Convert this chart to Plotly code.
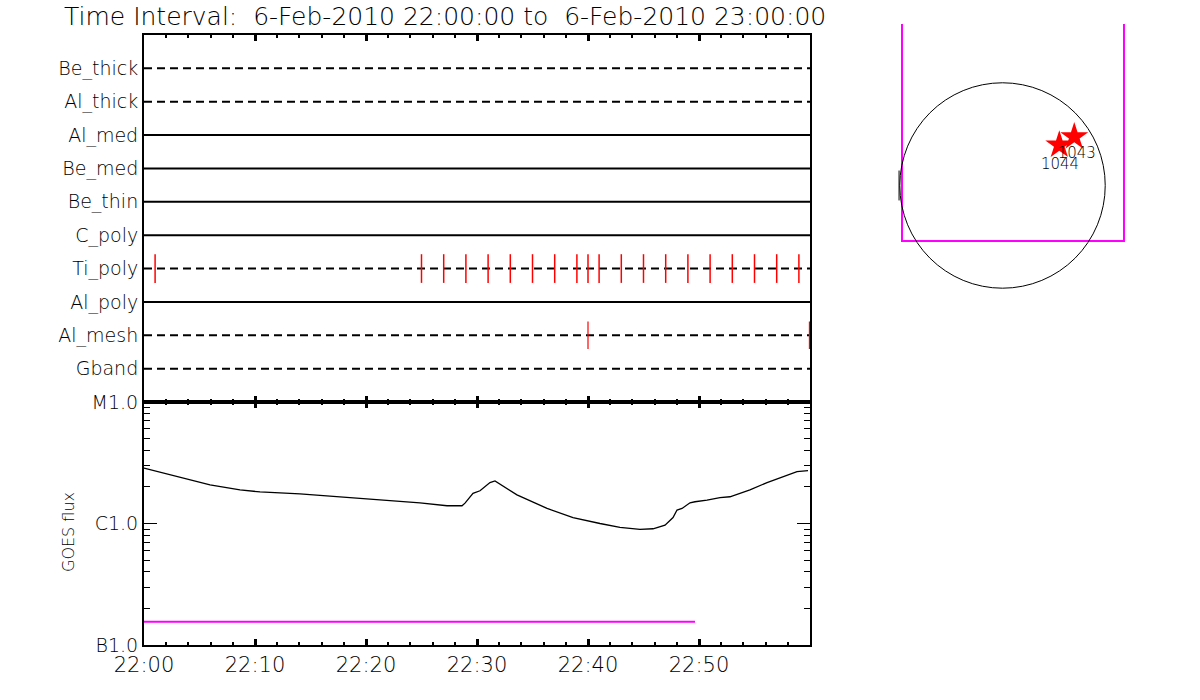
import pandas as pd
import plotly.graph_objects as go

# ---------------- data ----------------
BASE = pd.Timestamp("2010-02-06 22:00:00")
title_text = "Time Interval:  6-Feb-2010 22:00:00 to  6-Feb-2010 23:00:00"

detectors = ["Be_thick", "Al_thick", "Al_med", "Be_med", "Be_thin",
             "C_poly", "Ti_poly", "Al_poly", "Al_mesh", "Gband"]
detector_dashed = [True, True, False, False, False, False, True, False, True, True]

# observation times (minutes after 22:00) marked per detector
ti_poly_minutes = [1, 25, 27, 29, 31, 33, 35, 37, 39, 40, 41, 43, 45, 47,
                   49, 51, 53, 55, 57, 59]
al_mesh_minutes = [40, 59.95]

# GOES flux curve (minutes after 22:00, W/m^2)
goes_minutes = [0.0, 3.24, 5.95, 8.65, 10.45, 14.05, 17.66, 21.26, 24.86,
                27.30, 28.65, 28.92, 29.64, 30.27, 31.17, 31.62, 32.07,
                33.60, 36.31, 38.65, 41.08, 42.88, 44.68, 45.86, 46.94,
                47.66, 48.02, 48.47, 49.19, 49.64, 50.72, 51.89, 52.79,
                54.59, 56.13, 57.57, 58.83, 59.82]
goes_flux = [2.86e-6, 2.42e-6, 2.08e-6, 1.89e-6, 1.82e-6, 1.75e-6, 1.65e-6,
             1.56e-6, 1.48e-6, 1.40e-6, 1.40e-6, 1.47e-6, 1.77e-6, 1.86e-6,
             2.17e-6, 2.24e-6, 2.11e-6, 1.72e-6, 1.33e-6, 1.12e-6, 1.00e-6,
             9.3e-7, 8.95e-7, 9.05e-7, 9.7e-7, 1.12e-6, 1.29e-6, 1.33e-6,
             1.48e-6, 1.51e-6, 1.56e-6, 1.63e-6, 1.66e-6, 1.89e-6, 2.17e-6,
             2.43e-6, 2.67e-6, 2.72e-6]

# magenta level line
level_minutes = [0.0, 49.64]
level_flux = [1.55e-7, 1.55e-7]

goes_tickvals = [1e-7, 1e-6, 1e-5]
goes_ticktext = ["B1.0", "C1.0", "M1.0"]
goes_minor = [2e-7, 3e-7, 4e-7, 5e-7, 6e-7, 7e-7, 8e-7, 9e-7,
              2e-6, 3e-6, 4e-6, 5e-6, 6e-6, 7e-6, 8e-6, 9e-6]

time_tick_minutes = [0, 10, 20, 30, 40, 50]
time_tick_labels = ["22:00", "22:10", "22:20", "22:30", "22:40", "22:50"]

# solar disk panel (arcsec)
sun_radius = 975
fov_x = [-954, -954, 1153, 1153]
fov_y = [1533, -527, -527, 1533]
limb_mark_x = [-982, -982]
limb_mark_y = [-142, 142]
region_x = [539, 681]
region_y = [384, 463]
region_names = ["1044", "1043"]
region_label_x = [546, 705]
region_label_y = [188, 292]


def t(mins):
    return [None if m is None else (BASE + pd.to_timedelta(m, unit="min")) for m in mins]


BLACK = "#000000"
RED = "#FF0000"
MAG = "#FF00FF"
FONT = "DejaVu Sans"
FW = 200

W, H = 1200, 700


def px_x(p):
    return p / W


def px_y(p):
    return 1 - p / H


fig = go.Figure()

# ---------- top panel: detector lines ----------
nrow = len(detectors)
row_y = {name: nrow - i for i, name in enumerate(detectors)}
for name, dashed in zip(detectors, detector_dashed):
    fig.add_trace(go.Scatter(
        x=t([0, 60]), y=[row_y[name]] * 2, mode="lines",
        line=dict(color=BLACK, width=2, dash="8px,5px" if dashed else "solid"),
        xaxis="x", yaxis="y", showlegend=False, hoverinfo="skip"))


def tick_segments(mins, yc, half):
    xs, ys = [], []
    for m in mins:
        xs += [m, m, None]
        ys += [yc - half, yc + half, None]
    return t(xs), ys


xs, ys = tick_segments(ti_poly_minutes, row_y["Ti_poly"], 0.43)
fig.add_trace(go.Scatter(x=xs, y=ys, mode="lines", line=dict(color=RED, width=1.5),
                         xaxis="x", yaxis="y", showlegend=False, hoverinfo="skip"))
xs, ys = tick_segments(al_mesh_minutes, row_y["Al_mesh"], 0.41)
fig.add_trace(go.Scatter(x=xs, y=ys, mode="lines", line=dict(color=RED, width=1.2),
                         xaxis="x", yaxis="y", showlegend=False, hoverinfo="skip"))

# ---------- bottom panel: GOES ----------
fig.add_trace(go.Scatter(x=t(goes_minutes), y=goes_flux, mode="lines",
                         line=dict(color=BLACK, width=1.3),
                         xaxis="x2", yaxis="y2", showlegend=False))
fig.add_trace(go.Scatter(x=t(level_minutes), y=level_flux, mode="lines",
                         line=dict(color=MAG, width=2),
                         xaxis="x2", yaxis="y2", showlegend=False))

# ---------- solar disk panel ----------
fig.add_trace(go.Scatter(x=fov_x, y=fov_y, mode="lines", line=dict(color=MAG, width=2),
                         xaxis="x3", yaxis="y3", showlegend=False, cliponaxis=False))
fig.add_trace(go.Scatter(x=limb_mark_x, y=limb_mark_y, mode="lines",
                         line=dict(color=BLACK, width=1),
                         xaxis="x3", yaxis="y3", showlegend=False))
fig.add_trace(go.Scatter(x=region_x, y=region_y, mode="markers",
                         marker=dict(symbol="star", size=21, color=RED, line=dict(width=0)),
                         xaxis="x3", yaxis="y3", showlegend=False))
fig.add_trace(go.Scatter(x=region_label_x, y=region_label_y, mode="text", text=region_names,
                         textfont=dict(family=FONT, size=15, color=BLACK, weight=FW),
                         xaxis="x3", yaxis="y3", showlegend=False))
fig.add_shape(type="circle", xref="x3", yref="y3",
              x0=-sun_radius, x1=sun_radius, y0=-sun_radius, y1=sun_radius,
              line=dict(color=BLACK, width=1))

# ---------- layout ----------
x_dom = [px_x(144), px_x(810)]
top_dom = [px_y(402), px_y(35)]
bot_dom = [px_y(645), px_y(402)]
trange = [BASE, BASE + pd.Timedelta(minutes=60)]

common_x = dict(range=trange, type="date", showgrid=False, zeroline=False,
                showline=True, linecolor=BLACK, linewidth=2, mirror="allticks",
                ticks="inside", ticklen=6, tickwidth=3, tickcolor=BLACK,
                tickmode="array", tickvals=t(time_tick_minutes),
                ticktext=time_tick_labels, automargin=False,
                minor=dict(ticks="inside", ticklen=3, tickwidth=2, tickcolor=BLACK,
                           dtick=120000, tick0=BASE, showgrid=False))

fig.update_layout(
    width=W, height=H,
    margin=dict(l=0, r=0, t=0, b=0, pad=0, autoexpand=False),
    paper_bgcolor="white", plot_bgcolor="white",
    font=dict(family=FONT, size=18, color=BLACK, weight=FW),
    xaxis=dict(domain=x_dom, anchor="y", showticklabels=False, **common_x),
    yaxis=dict(domain=top_dom, anchor="x", range=[0, nrow + 1], showgrid=False,
               zeroline=False, showline=True, linecolor=BLACK, linewidth=2, mirror=True,
               ticks="", tickmode="array", tickvals=[row_y[d] for d in detectors],
               ticktext=detectors, automargin=False,
               tickfont=dict(family=FONT, size=19, color=BLACK, weight=FW)),
    xaxis2=dict(domain=x_dom, anchor="y2", showticklabels=True,
                tickfont=dict(family=FONT, size=21, color=BLACK, weight=FW), **common_x),
    yaxis2=dict(domain=bot_dom, anchor="x2", type="log", range=[-7, -5],
                showgrid=False, zeroline=False, showline=True, linecolor=BLACK,
                linewidth=2, mirror="ticks", ticks="inside", ticklen=13, tickwidth=1,
                tickcolor=BLACK, tickmode="array", tickvals=goes_tickvals,
                ticktext=goes_ticktext, automargin=False,
                tickfont=dict(family=FONT, size=19, color=BLACK, weight=FW),
                minor=dict(ticks="inside", ticklen=6, tickwidth=1, tickcolor=BLACK,
                           tickvals=goes_minor, showgrid=False)),
    xaxis3=dict(domain=[px_x(890), px_x(1140)], anchor="y3", range=[-1068, 1305],
                visible=False, showgrid=False, zeroline=False, automargin=False),
    yaxis3=dict(domain=[px_y(300), px_y(20)], anchor="x3", range=[-1087, 1571],
                visible=False, showgrid=False, zeroline=False, automargin=False),
)

fig.add_annotation(text=title_text, xref="paper", yref="paper", x=px_x(62), y=px_y(16),
                   xanchor="left", yanchor="middle", showarrow=False,
                   font=dict(family=FONT, size=25, color=BLACK, weight=FW))
fig.add_annotation(text="GOES flux", xref="paper", yref="paper", x=px_x(68), y=px_y(532),
                   xanchor="center", yanchor="middle", showarrow=False, textangle=-90,
                   font=dict(family=FONT, size=16, color=BLACK, weight=FW))

fig.write_html("out.html", config={"displayModeBar": False},
               post_script="document.body.style.margin='0';document.body.style.overflow='hidden';")
